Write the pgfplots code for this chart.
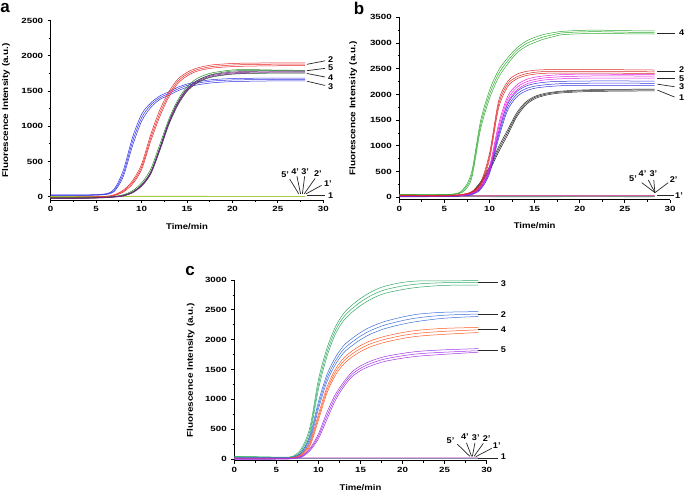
\documentclass[border=0pt]{standalone}
\usepackage{fontspec}
\setmainfont{Liberation Sans}
\usepackage{pgfplots}
\usepackage{pgfplotstable}
\pgfplotsset{compat=1.18}

\definecolor{ablue}{RGB}{50,50,230}
\definecolor{ared}{RGB}{230,40,40}
\definecolor{agreen}{RGB}{40,140,40}
\definecolor{apurple}{RGB}{110,30,130}
\definecolor{bgreen}{RGB}{50,170,50}
\definecolor{bred}{RGB}{220,40,40}
\definecolor{bmag}{RGB}{230,30,230}
\definecolor{bblue}{RGB}{50,50,220}
\definecolor{bblack}{RGB}{40,40,40}
\definecolor{cgreen}{RGB}{50,170,100}
\definecolor{cblue}{RGB}{60,110,220}
\definecolor{corange}{RGB}{255,90,40}
\definecolor{cpurple}{RGB}{160,50,230}

% ---------------- panel a ----------------
\pgfplotstableread{
t r1 r2 r3
0 25 22 18
2 25 22 18
4 26 23 18
6 40 35 30
7 110 90 75
8 380 330 290
9 840 780 720
10 1170 1120 1070
11 1330 1300 1265
12 1430 1405 1380
13 1490 1465 1440
14 1555 1530 1505
15 1600 1580 1555
16 1630 1610 1585
17 1650 1630 1605
18 1665 1645 1620
20 1678 1658 1635
22 1682 1662 1640
25 1685 1665 1645
28 1685 1665 1645
}\aThree
\pgfplotstableread{
t r1 r2 r3
0 -5 -10 -15
2 -5 -10 -15
4 -3 -8 -12
6 5 0 -5
7 28 20 14
8 95 80 68
9 225 200 178
10 460 420 385
11 880 830 785
12 1230 1180 1135
13 1490 1450 1415
14 1670 1640 1610
15 1765 1740 1715
16 1822 1800 1778
17 1855 1832 1810
18 1875 1852 1830
20 1892 1870 1848
22 1898 1878 1855
25 1900 1882 1860
28 1902 1884 1862
}\aTwo
\pgfplotstableread{
t r1 r2 r3
0 -15 -20 -25
2 -15 -20 -25
4 -13 -18 -22
6 -5 -10 -14
7 5 0 -5
8 28 20 12
9 85 70 58
10 195 170 150
11 390 350 320
12 740 690 650
13 1100 1060 1020
14 1375 1340 1300
15 1560 1530 1495
16 1670 1640 1605
17 1730 1705 1670
18 1765 1745 1705
20 1800 1785 1740
22 1805 1792 1750
25 1798 1790 1755
28 1795 1788 1755
}\aFive
\pgfplotstableread{
t r1 r2 r3
0 -20 -22 -25
2 -20 -22 -25
4 -18 -20 -23
6 -10 -12 -15
7 0 -3 -6
8 18 14 10
9 65 60 55
10 165 158 150
11 345 335 322
12 690 675 660
13 1065 1045 1030
14 1345 1325 1310
15 1535 1515 1500
16 1640 1625 1610
17 1700 1688 1675
18 1738 1725 1712
20 1770 1758 1745
22 1780 1768 1755
25 1785 1772 1760
28 1785 1772 1760
}\aFour
\pgfplotstableread{
t n1 n2 n3 n4 n5 n6
0 5 2 8 0 3 6
7 4 3 6 2 4 5
14 6 1 7 3 2 4
21 3 4 5 1 5 6
28 5 2 6 2 3 5
}\aNeg

% ---------------- panel b ----------------
\pgfplotstableread{
t r1 r2 r3
0 60 55 50
2 55 50 45
4 55 50 45
6 65 60 55
7 140 120 100
8 480 420 360
9 1480 1400 1320
10 2080 2000 1920
11 2470 2400 2330
12 2710 2650 2590
13 2900 2850 2800
14 3030 2980 2930
15 3110 3060 3010
16 3165 3120 3075
17 3200 3160 3120
18 3225 3195 3160
20 3245 3215 3180
22 3250 3220 3185
25 3240 3210 3180
28.3 3235 3205 3175
}\bFour
\pgfplotstableread{
t r1 r2 r3
0 45 40 35
2 40 35 30
4 35 30 25
6 45 40 35
7 60 55 50
8 110 100 90
9 280 250 220
10 860 800 740
11 1870 1800 1730
12 2250 2200 2150
13 2390 2340 2300
14 2445 2400 2365
15 2470 2430 2395
16 2480 2445 2410
17 2485 2450 2415
18 2485 2450 2415
20 2485 2450 2415
22 2485 2448 2415
25 2480 2445 2412
28.3 2475 2440 2410
}\bTwo
\pgfplotstableread{
t r1 r2 r3
0 35 30 25
2 32 28 24
4 30 26 22
6 35 30 26
7 45 40 35
8 90 80 70
9 220 200 180
10 600 550 500
11 1420 1350 1280
12 1960 1900 1840
13 2180 2130 2080
14 2285 2240 2195
15 2335 2290 2250
16 2360 2320 2280
17 2375 2335 2295
18 2385 2345 2305
20 2395 2355 2315
22 2395 2360 2318
25 2390 2360 2318
28.3 2385 2355 2315
}\bFive
\pgfplotstableread{
t r1 r2 r3
0 30 25 20
2 28 24 20
4 26 22 18
6 30 26 22
7 38 33 28
8 70 60 50
9 190 170 150
10 540 500 460
11 1260 1200 1140
12 1810 1750 1690
13 2050 2000 1950
14 2160 2110 2065
15 2210 2160 2120
16 2235 2185 2145
17 2250 2200 2160
18 2255 2210 2170
20 2260 2215 2175
22 2262 2220 2178
25 2262 2220 2178
28.3 2258 2215 2175
}\bThree
\pgfplotstableread{
t r1 r2 r3
0 25 20 15
2 25 20 15
4 24 20 15
6 30 25 20
7 45 40 35
8 100 90 80
9 300 280 260
10 600 560 520
11 980 930 880
12 1310 1260 1210
13 1640 1600 1560
14 1850 1820 1790
15 1960 1940 1915
16 2015 1995 1975
17 2045 2030 2010
18 2065 2050 2030
20 2085 2070 2050
22 2095 2080 2060
25 2100 2085 2065
28.3 2105 2090 2070
}\bOne
\pgfplotstableread{
t n1 n2 n3 n4 n5 n6
0 40 25 10 30 15 20
7 38 22 12 28 18 22
14 35 24 10 30 14 20
21 36 22 12 26 16 21
28.3 34 24 10 28 15 20
}\bNeg

% ---------------- panel c ----------------
\pgfplotstableread{
t r1 r2 r3
0 45 40 35
2 40 35 30
4 35 30 25
6 30 25 20
7 50 40 30
8 180 150 120
9 540 480 420
10 1330 1250 1170
11 1850 1780 1710
12 2210 2150 2090
13 2440 2380 2320
14 2580 2520 2460
15 2690 2630 2570
16 2780 2720 2660
17 2850 2790 2730
18 2900 2840 2780
20 2960 2900 2840
22 2985 2935 2880
25 2985 2955 2910
29 2990 2960 2915
}\cThree
\pgfplotstableread{
t r1 r2 r3
0 25 20 15
2 24 20 15
4 23 18 14
6 25 20 15
7 35 30 25
8 115 100 85
9 390 350 310
10 960 900 840
11 1410 1350 1290
12 1700 1640 1580
13 1900 1840 1780
14 2020 1960 1900
15 2120 2060 2000
16 2200 2140 2080
17 2260 2200 2140
18 2310 2250 2190
20 2380 2320 2260
22 2430 2370 2310
25 2460 2410 2360
29 2470 2430 2390
}\cTwo
\pgfplotstableread{
t r1 r2 r3
0 15 10 5
2 14 10 5
4 13 9 5
6 14 10 6
7 24 20 16
8 80 70 60
9 280 250 220
10 750 700 650
11 1200 1150 1100
12 1500 1450 1400
13 1690 1640 1590
14 1810 1760 1710
15 1900 1850 1800
16 1970 1920 1870
17 2020 1970 1920
18 2060 2010 1960
20 2120 2070 2020
22 2160 2110 2060
25 2190 2140 2090
29 2205 2165 2120
}\cFour
\pgfplotstableread{
t r1 r2 r3
0 5 0 -5
2 5 0 -5
4 5 0 -5
6 8 3 -2
7 15 10 5
8 48 40 32
9 180 160 140
10 420 380 340
11 780 720 660
12 1080 1030 980
13 1290 1250 1210
14 1460 1420 1380
15 1560 1520 1480
16 1630 1590 1550
17 1680 1640 1600
18 1720 1680 1640
20 1770 1730 1690
22 1805 1765 1725
25 1830 1790 1755
29 1850 1815 1790
}\cFive
\pgfplotstableread{
t n1 n2 n3 n4 n5 n6
0 15 8 20 5 12 10
7 14 10 18 6 12 9
14 16 8 18 5 10 10
21 14 9 19 7 12 8
29 15 8 18 6 11 10
}\cNeg

\newcommand{\grp}[2]{%
  \addplot[#2] table[x=t,y=r1]{#1};
  \addplot[#2] table[x=t,y=r2]{#1};
  \addplot[#2] table[x=t,y=r3]{#1};
}

\pgfplotsset{
  panel/.style={
    scale only axis, anchor=south west,
    axis lines=left, axis line style={-, line width=0.9pt},
    xmin=0, xmax=30, xtick={0,5,...,30},
    minor x tick num=1, minor y tick num=1,
    tick align=outside, major tick length=3pt, minor tick length=1.8pt,
    tick style={black, line width=0.8pt},
    scaled ticks=false,
    /pgf/number format/assume math mode=true,
    /pgf/number format/set thousands separator={},
    tick label style={font=\bfseries\fontsize{7.5}{9}\selectfont, xscale=1.3},
    xlabel={Time/min}, ylabel={Fluorescence Intensity (a.u.)},
    clip=false,
    every axis plot/.append style={smooth, mark=none, line width=0.5pt},
  },
  ylab/.style={every axis y label/.style={at={(axis description cs:#1,0.5)},
      anchor=center, rotate=90, xscale=1.2, font=\bfseries\fontsize{8.3}{10}\selectfont}},
  xlab/.style={every axis x label/.style={at={(axis description cs:0.5,#1)},
      anchor=center, xscale=1.15, font=\bfseries\fontsize{8.3}{10}\selectfont}},
}
\tikzset{
  lead/.style={black!85, line width=0.7pt},
  lab/.style={font=\bfseries\fontsize{8.3}{10}\selectfont, inner sep=0pt, xscale=1.1},
}

\begin{document}
\begin{tikzpicture}
\useasboundingbox (0,0) rectangle (685pt,495pt);

% panel a
\begin{axis}[panel, ylab=-0.164, xlab=-0.145, at={(50.7pt,294.8pt)}, width=272.6pt, height=179.5pt,
  ymin=-50, ymax=2500, ytick={0,500,...,2500}]
\addplot[color={rgb,255:red,200;green,210;blue,0}] table[x=t,y=n1]{\aNeg};
\addplot[color={rgb,255:red,120;green,200;blue,40}] table[x=t,y=n2]{\aNeg};
\addplot[color={rgb,255:red,240;green,150;blue,30}] table[x=t,y=n3]{\aNeg};
\addplot[color={rgb,255:red,60;green,170;blue,60}] table[x=t,y=n4]{\aNeg};
\addplot[color={rgb,255:red,230;green,220;blue,40}] table[x=t,y=n5]{\aNeg};
\addplot[color={rgb,255:red,150;green,210;blue,80}] table[x=t,y=n6]{\aNeg};
\grp{\aThree}{ablue}
\grp{\aTwo}{ared}
\grp{\aFive}{agreen}
\grp{\aFour}{apurple}
\draw[lead] (axis cs:28.2,1880)--(axis cs:30.2,1930);
\node[lab] at (axis cs:30.8,1945) {2};
\draw[lead] (axis cs:28.2,1790)--(axis cs:30.2,1823);
\node[lab] at (axis cs:30.8,1830) {5};
\draw[lead] (axis cs:28.2,1750)--(axis cs:30.2,1700);
\node[lab] at (axis cs:30.8,1690) {4};
\draw[lead] (axis cs:28.2,1640)--(axis cs:30.2,1580);
\node[lab] at (axis cs:30.8,1570) {3};
\draw[lead] (axis cs:28.2,19)--(axis cs:30.2,19);
\node[lab] at (axis cs:30.8,19) {1};
\draw[lead] (axis cs:28.1,40)--(axis cs:29.8,160);
\node[lab] at (axis cs:30.5,190) {1’};
\draw[lead] (axis cs:27.9,40)--(axis cs:29.1,260);
\node[lab] at (axis cs:29.4,330) {2’};
\draw[lead] (axis cs:27.7,40)--(axis cs:27.95,290);
\node[lab] at (axis cs:28.0,360) {3’};
\draw[lead] (axis cs:27.5,40)--(axis cs:27.1,290);
\node[lab] at (axis cs:26.9,360) {4’};
\draw[lead] (axis cs:27.3,40)--(axis cs:26.3,250);
\node[lab] at (axis cs:25.8,310) {5’};
\end{axis}

% panel b
\begin{axis}[panel, ylab=-0.170, xlab=-0.142, at={(399.3pt,295.1pt)}, width=270.7pt, height=182.6pt,
  ymin=-50, ymax=3500, ytick={0,500,...,3500}]
\addplot[color={rgb,255:red,230;green,40;blue,200}] table[x=t,y=n1]{\bNeg};
\addplot[color={rgb,255:red,0;green,150;blue,150}] table[x=t,y=n2]{\bNeg};
\addplot[color={rgb,255:red,120;green,120;blue,120}] table[x=t,y=n3]{\bNeg};
\addplot[color={rgb,255:red,220;green,50;blue,80}] table[x=t,y=n4]{\bNeg};
\addplot[color={rgb,255:red,240;green,100;blue,180}] table[x=t,y=n5]{\bNeg};
\addplot[color={rgb,255:red,80;green,160;blue,120}] table[x=t,y=n6]{\bNeg};
\grp{\bFour}{bgreen}
\grp{\bOne}{bblack}
\grp{\bThree}{bblue}
\grp{\bFive}{bmag}
\grp{\bTwo}{bred}
\draw[lead] (axis cs:28.6,3195)--(axis cs:30.5,3195);
\node[lab] at (axis cs:31.3,3195) {4};
\draw[lead] (axis cs:28.6,2445)--(axis cs:30.5,2445);
\node[lab] at (axis cs:31.3,2475) {2};
\draw[lead] (axis cs:28.6,2305)--(axis cs:30.5,2305);
\node[lab] at (axis cs:31.3,2300) {5};
\draw[lead] (axis cs:28.6,2200)--(axis cs:30.5,2150);
\node[lab] at (axis cs:31.3,2150) {3};
\draw[lead] (axis cs:28.6,2085)--(axis cs:30.5,1950);
\node[lab] at (axis cs:31.3,1944) {1};
\draw[lead] (axis cs:28.6,30)--(axis cs:30.4,30);
\node[lab] at (axis cs:31.0,40) {1’};
\draw[lead] (axis cs:28.33,91)--(axis cs:29.8,285);
\node[lab] at (axis cs:30.4,350) {2’};
\draw[lead] (axis cs:28.33,91)--(axis cs:28.2,337);
\node[lab] at (axis cs:28.15,467) {3’};
\draw[lead] (axis cs:28.33,91)--(axis cs:27.6,337);
\node[lab] at (axis cs:26.95,453) {4’};
\draw[lead] (axis cs:28.33,91)--(axis cs:26.86,285);
\node[lab] at (axis cs:25.9,369) {5’};
\end{axis}

% panel c
\begin{axis}[panel, ylab=-0.173, xlab=-0.149, at={(234.3pt,34.2pt)}, width=252.4pt, height=180.8pt,
  ymin=-30, ymax=3000, ytick={0,500,...,3000}]
\addplot[color={rgb,255:red,255;green,90;blue,40}] table[x=t,y=n1]{\cNeg};
\addplot[color={rgb,255:red,80;green,180;blue,80}] table[x=t,y=n2]{\cNeg};
\addplot[color={rgb,255:red,170;green,70;blue,230}] table[x=t,y=n3]{\cNeg};
\addplot[color={rgb,255:red,230;green,200;blue,40}] table[x=t,y=n4]{\cNeg};
\addplot[color={rgb,255:red,240;green,120;blue,60}] table[x=t,y=n5]{\cNeg};
\addplot[color={rgb,255:red,100;green,140;blue,230}] table[x=t,y=n6]{\cNeg};
\grp{\cThree}{cgreen}
\grp{\cTwo}{cblue}
\grp{\cFour}{corange}
\grp{\cFive}{cpurple}
\draw[lead] (axis cs:29.0,2955)--(axis cs:31.4,2955);
\node[lab] at (axis cs:32.0,2944) {3};
\draw[lead] (axis cs:29.0,2425)--(axis cs:31.4,2425);
\node[lab] at (axis cs:32.0,2413) {2};
\draw[lead] (axis cs:29.0,2173)--(axis cs:31.4,2173);
\node[lab] at (axis cs:32.0,2173) {4};
\draw[lead] (axis cs:29.0,1827)--(axis cs:31.4,1827);
\node[lab] at (axis cs:32.0,1827) {5};
\draw[lead] (axis cs:29.0,11)--(axis cs:31.4,11);
\node[lab] at (axis cs:32.0,39) {1};
\draw[lead] (axis cs:28.7,39)--(axis cs:30.6,179);
\node[lab] at (axis cs:31.2,218) {1’};
\draw[lead] (axis cs:28.5,45)--(axis cs:29.6,263);
\node[lab] at (axis cs:30.0,347) {2’};
\draw[lead] (axis cs:28.3,45)--(axis cs:28.6,270);
\node[lab] at (axis cs:28.7,357) {3’};
\draw[lead] (axis cs:28.2,45)--(axis cs:27.6,270);
\node[lab] at (axis cs:27.4,374) {4’};
\draw[lead] (axis cs:28.0,45)--(axis cs:26.5,250);
\node[lab] at (axis cs:25.7,307) {5’};
\end{axis}

\node[font=\bfseries\fontsize{17}{17}\selectfont, inner sep=0pt] at (5pt,487pt) {a};
\node[font=\bfseries\fontsize{17}{17}\selectfont, inner sep=0pt] at (359pt,486.2pt) {b};
\node[font=\bfseries\fontsize{17}{17}\selectfont, inner sep=0pt] at (190pt,224.2pt) {c};
\end{tikzpicture}
\end{document}
